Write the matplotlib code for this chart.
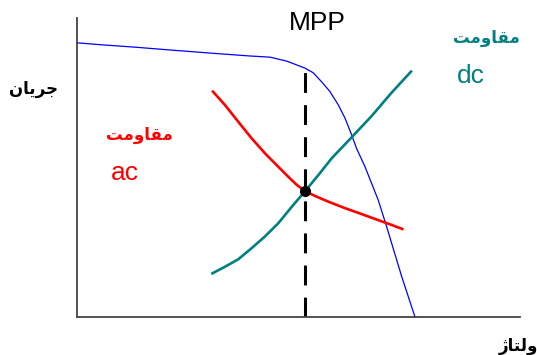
import numpy as np
import matplotlib.pyplot as plt

latinFont = {'family': 'Liberation Sans', 'size': 19}
farsiFont = {'family': 'DejaVu Sans', 'weight': 'bold', 'size': 12}

# panel curve (current vs voltage)
panelV = [0, 0.59, 1.35, 2.10, 3.07, 3.90, 4.36, 4.73, 4.96, 5.15, 5.33, 5.52, 5.71,
          5.90, 6.05, 6.20, 6.31, 6.50, 6.80, 6.99, 7.33, 7.63]
panelI = [9.17, 9.10, 9.02, 8.93, 8.82, 8.73, 8.69, 8.56, 8.43, 8.32, 8.17, 7.87, 7.54,
          7.09, 6.65, 6.09, 5.64, 5.03, 3.91, 3.02, 1.35, 0.0]

# ac resistance line
acV = [3.05, 3.34, 3.64, 3.94, 4.24, 4.54, 4.77, 4.96, 5.15, 5.37, 5.67, 6.05, 6.43,
       6.80, 7.10, 7.37]
acI = [7.57, 7.09, 6.53, 5.98, 5.48, 5.03, 4.69, 4.42, 4.21, 4.05, 3.86, 3.64, 3.44,
       3.24, 3.08, 2.93]

# dc resistance line
dcV = [3.03, 3.34, 3.64, 3.94, 4.24, 4.54, 4.85, 5.15, 5.45, 5.75, 6.20, 6.65, 7.10, 7.56]
dcI = [1.44, 1.68, 1.93, 2.30, 2.69, 3.13, 3.69, 4.21, 4.75, 5.31, 6.01, 6.72, 7.50, 8.24]

# maximum power point
mppV = 5.15
mppI = 4.21
mppTop = 8.32

# labels (Arabic presentation forms, visual order)
labelCurrent = "\uFEE5\uFE8E\uFBFE\uFEAE\uFE9F"          # جریان
labelVoltage = "\uFB8A\uFE8E\uFE98\uFEDF\uFEED"          # ولتاژ
labelResist = "\uFE96\uFEE3\uFEED\uFE8E\uFED8\uFEE3"     # مقاومت

W, H = 537, 355
fig = plt.figure(figsize=(W / 100, H / 100), dpi=100)
ax = fig.add_axes([77 / W, (H - 317) / H, (520 - 77) / W, (317 - 18) / H])
ax.set_xlim(0, 10)
ax.set_ylim(0, 10)
ax.set_xticks([])
ax.set_yticks([])
for s in ['top', 'right']:
    ax.spines[s].set_visible(False)
for s in ['left', 'bottom']:
    ax.spines[s].set_color('#444444')
    ax.spines[s].set_linewidth(1.3)

ax.plot(panelV, panelI, color='#0000ff', lw=0.9, clip_on=False)
ax.plot(acV, acI, color='#ff0000', lw=1.9, solid_capstyle='butt')
ax.plot(dcV, dcI, color='#008080', lw=1.9, solid_capstyle='butt')
ax.plot([mppV, mppV], [0, mppTop], color='black', lw=2.2, dashes=(6.5, 4))
ax.plot(mppV, mppI, 'o', color='black', ms=7)

# texts
def figText(x, y, s, **kw):
    fig.text(x / W, 1 - y / H, s, ha='center', va='center', **kw)

figText(317, 23, 'MPP', color='black', **latinFont)
figText(486, 38, labelResist, color='#008080', **farsiFont)
figText(471, 76, 'dc', color='#008080', **latinFont)
figText(139, 135, labelResist, color='#ff0000', **farsiFont)
figText(125, 173, 'ac', color='#ff0000', **latinFont)
figText(34, 89, labelCurrent, color='black', **farsiFont)
figText(518, 346, labelVoltage, color='black', **farsiFont)

plt.savefig('out.png', dpi=100)
